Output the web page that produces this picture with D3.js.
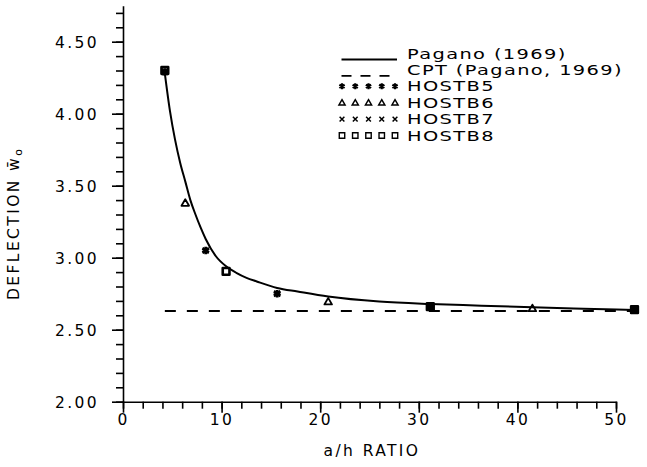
<!DOCTYPE html>
<html>
<head>
<meta charset="utf-8">
<script src="https://cdn.jsdelivr.net/npm/d3@7"></script>
<style>
  html, body { margin: 0; padding: 0; background: #fff; }
  svg { display: block; }
  text { font-family: "DejaVu Sans", sans-serif; font-size: 15.5px; letter-spacing: 2.4px; fill: #000; }
  .legend text { font-size: 14px; letter-spacing: 1px; }
</style>
</head>
<body>
<svg id="chart" width="647" height="467"></svg>
<script>
// Centre deflection against a/h ratio: exact solution, CPT and four HOSTB models

const xTickValues = [0, 10, 20, 30, 40, 50];
const xTickLabels = ["0", "10", "20", "30", "40", "50"];
const yTickValues = [2.0, 2.5, 3.0, 3.5, 4.0, 4.5];
const yTickLabels = ["2.00", "2.50", "3.00", "3.50", "4.00", "4.50"];

// Pagano (1969) exact solution
const paganoX = [4, 4.5, 5, 5.5, 6, 6.5, 7, 7.5, 8, 9, 10, 11, 12, 13, 15, 17, 20, 25, 30, 35, 40, 45, 50];
const paganoY = [4.28, 4.02, 3.82, 3.66, 3.53, 3.40, 3.30, 3.21, 3.13, 3.01, 2.94, 2.895, 2.86, 2.835, 2.79, 2.765, 2.73, 2.695, 2.678, 2.667, 2.656, 2.646, 2.637];

// Classical plate theory (Pagano, 1969)
const cptX = [4, 50];
const cptY = [2.63, 2.63];

const hostb5X = [4, 8, 15, 30, 50];
const hostb5Y = [4.29, 3.05, 2.75, 2.655, 2.64];
const hostb6X = [6, 20, 40];
const hostb6Y = [3.38, 2.695, 2.648];
const hostb7X = [4, 8, 15, 30, 50];
const hostb7Y = [4.29, 3.05, 2.75, 2.655, 2.64];
const hostb8X = [4, 10, 30, 50];
const hostb8Y = [4.30, 2.905, 2.66, 2.64];

const legendNames = ["Pagano (1969)", "CPT (Pagano, 1969)", "HOSTB5", "HOSTB6", "HOSTB7", "HOSTB8"];
const legendKinds = ["solid", "dashed", "star", "triangle", "cross", "square"];

const svg = d3.select("#chart");

// tick frame
const x = d3.scaleLinear().domain([0, 50]).range([123, 616]);
// plotted marks run slightly wider than the tick frame (plotter calibration)
const xp = d3.scaleLinear().domain([0, 50]).range([124, 634.5]);
const y = d3.scaleLinear().domain([2, 4.75]).range([401.7, 5.7]);

const axisColor = "#000";
const axisWidth = 1.6;

// ---- x axis ----
const xMinor = d3.axisBottom(x).tickValues(d3.range(0, 51, 2)).tickSize(7).tickSizeOuter(0).tickFormat("");
const xMajor = d3.axisBottom(x).tickValues(xTickValues).tickSize(11).tickSizeOuter(0)
  .tickFormat((d, i) => xTickLabels[i]);

const gxMinor = svg.append("g").attr("transform", `translate(0,${y(2)})`).call(xMinor);
const gxMajor = svg.append("g").attr("transform", `translate(0,${y(2)})`).call(xMajor);
gxMinor.select(".domain").remove();
[gxMinor, gxMajor].forEach(g => {
  g.selectAll("line").attr("stroke", axisColor).attr("stroke-width", axisWidth);
  g.select(".domain").attr("stroke", axisColor).attr("stroke-width", axisWidth);
});
gxMajor.attr("font-family", null).attr("font-size", null);
gxMajor.selectAll("text").attr("y", 23.5).attr("dy", 0);

// ---- y axis ----
const yMinor = d3.axisLeft(y).tickValues(d3.range(20, 48, 1).map(v => v / 10)).tickSize(7).tickSizeOuter(0).tickFormat("");
const yMajor = d3.axisLeft(y).tickValues(yTickValues).tickSize(11).tickSizeOuter(0)
  .tickPadding(13).tickFormat((d, i) => yTickLabels[i]);

const gyMinor = svg.append("g").attr("transform", `translate(${x(0)},0)`).call(yMinor);
const gyMajor = svg.append("g").attr("transform", `translate(${x(0)},0)`).call(yMajor);
gyMinor.select(".domain").remove();
[gyMinor, gyMajor].forEach(g => {
  g.selectAll("line").attr("stroke", axisColor).attr("stroke-width", axisWidth);
  g.select(".domain").attr("stroke", axisColor).attr("stroke-width", axisWidth);
});
gyMajor.attr("font-family", null).attr("font-size", null);
gyMajor.selectAll("text").attr("dy", "0.36em");

// ---- axis titles ----
svg.append("text")
  .attr("x", 372).attr("y", 456)
  .attr("text-anchor", "middle")
  .text("a/h RATIO");

const yTitle = svg.append("text")
  .attr("transform", "translate(19,300) rotate(-90)")
  .attr("text-anchor", "start");
yTitle.append("tspan").text("DEFLECTION ");
yTitle.append("tspan").text("w\u0304");
yTitle.append("tspan").attr("baseline-shift", "-25%").style("font-size", "11px").text("o");

// ---- curves ----
const paganoPts = paganoX.map((d, i) => [d, paganoY[i]]);
const line = d3.line().x(d => xp(d[0])).y(d => y(d[1])).curve(d3.curveMonotoneX);

svg.append("path")
  .attr("d", line(paganoPts))
  .attr("fill", "none").attr("stroke", "#000").attr("stroke-width", 2);

svg.append("path")
  .attr("d", d3.line().x(d => xp(d[0])).y(d => y(d[1]))(cptX.map((d, i) => [d, cptY[i]])))
  .attr("fill", "none").attr("stroke", "#000").attr("stroke-width", 2)
  .attr("stroke-dasharray", "11,11");

// ---- marker shapes ----
function markerPath(kind, cx, cy, s) {
  const p = d3.path();
  if (kind === "star") {
    const r = 3.6 * s;
    p.moveTo(cx, cy - r); p.lineTo(cx, cy + r);
    p.moveTo(cx - r * 0.87, cy - r * 0.5); p.lineTo(cx + r * 0.87, cy + r * 0.5);
    p.moveTo(cx - r * 0.87, cy + r * 0.5); p.lineTo(cx + r * 0.87, cy - r * 0.5);
  } else if (kind === "cross") {
    const r = 2.8 * s;
    p.moveTo(cx - r, cy - r); p.lineTo(cx + r, cy + r);
    p.moveTo(cx - r, cy + r); p.lineTo(cx + r, cy - r);
  } else if (kind === "triangle") {
    const r = 3.6 * s;
    p.moveTo(cx, cy - r); p.lineTo(cx + r, cy + r * 0.75); p.lineTo(cx - r, cy + r * 0.75); p.closePath();
  } else if (kind === "square") {
    const r = 3.2 * s;
    p.rect(cx - r, cy - r, 2 * r, 2 * r);
  }
  return p.toString();
}
const plotStroke = { star: 2.8, cross: 1.8, triangle: 1.8, square: 2.6 };
const legendStroke = { star: 2.2, cross: 1.5, triangle: 1.5, square: 1.4 };

function drawSeries(xs, ys, kind) {
  svg.append("g").selectAll("path")
    .data(xs.map((d, i) => [d, ys[i]]))
    .join("path")
    .attr("d", d => markerPath(kind, xp(d[0]), y(d[1]), 1.05))
    .attr("fill", "none")
    .attr("stroke", "#000")
    .attr("stroke-width", plotStroke[kind])
    .attr("stroke-linejoin", "round");
}
drawSeries(hostb8X, hostb8Y, "square");
drawSeries(hostb6X, hostb6Y, "triangle");
drawSeries(hostb7X, hostb7Y, "cross");
drawSeries(hostb5X, hostb5Y, "star");

// ---- legend ----
const legend = svg.append("g").attr("class", "legend");
const rowY = d3.scalePoint().domain(d3.range(legendNames.length)).range([58.5, 140.5]);
const sampleX = d3.scaleLinear().domain([0, 4]).range([342, 395]);

const legendTexts = [];
legendNames.forEach((name, i) => {
  const by = rowY(i);
  const kind = legendKinds[i];
  if (kind === "solid" || kind === "dashed") {
    legend.append("line")
      .attr("x1", 341.5).attr("x2", 397).attr("y1", by + 1).attr("y2", by + 1)
      .attr("stroke", "#000").attr("stroke-width", 1.8)
      .attr("stroke-dasharray", kind === "dashed" ? "10,9" : null);
  } else {
    d3.range(5).forEach(k => {
      legend.append("path")
        .attr("d", markerPath(kind, sampleX(k), by - 5, 0.85))
        .attr("fill", "none").attr("stroke", "#000")
        .attr("stroke-width", legendStroke[kind]);
    });
  }
  legendTexts.push(legend.append("text").attr("x", 407).attr("y", by).text(name));
});

// plotter lettering is wide: stretch legend glyphs so the longest entry spans 216px
const widest = d3.max(legendTexts, t => t.node().getComputedTextLength());
const stretch = 216 / widest;
legendTexts.forEach(t => {
  const w = t.node().getComputedTextLength();
  t.attr("textLength", w * stretch).attr("lengthAdjust", "spacingAndGlyphs");
});
</script>
</body>
</html>
